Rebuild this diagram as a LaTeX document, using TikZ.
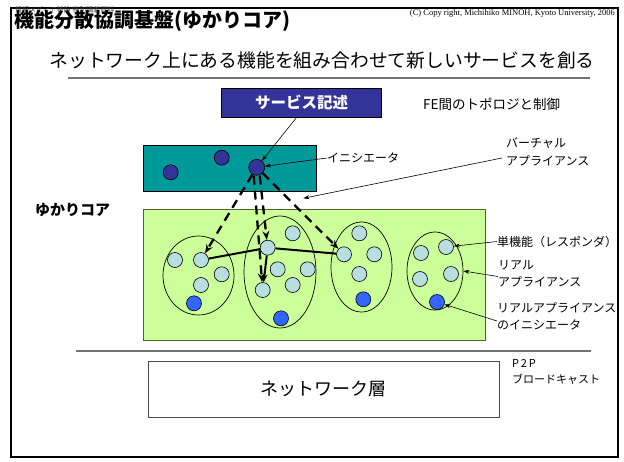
\documentclass[tikz,border=0pt]{standalone}
\usepackage{fontspec}
\setmainfont{Noto Sans CJK JP}
\newfontfamily\tms{Liberation Serif}
\usetikzlibrary{arrows.meta,shapes.geometric}
\definecolor{teal1}{HTML}{009999}
\definecolor{navy1}{HTML}{333399}
\definecolor{lgreen}{HTML}{CCFF99}
\definecolor{lblue}{HTML}{B8DEE0}
\definecolor{bblue}{HTML}{3366FF}
\definecolor{gborder}{HTML}{4F6228}
\tikzset{
  fs/.style={font=\fontsize{#1}{\fpeval{#1*1.45}}\selectfont},
  fe/.style={circle, draw=black, fill=lblue, minimum size=15pt, inner sep=0pt, line width=0.6pt},
  ini/.style={circle, draw=black, fill=bblue, minimum size=15pt, inner sep=0pt, line width=0.6pt},
  vini/.style={circle, draw=black, fill=navy1, minimum size=15pt, inner sep=0pt, line width=0.6pt},
  appl/.style={ellipse, draw=black, line width=0.7pt, inner sep=0pt},
  lbl/.style={anchor=west, align=left, inner sep=0pt, fs=12},
  note/.style={line width=0.6pt, -{Stealth[length=6pt,width=4pt]}},
  dsh/.style={line width=2.3pt, dash pattern=on 9pt off 6pt, -{Stealth[length=9pt,width=7pt]}},
  sol/.style={line width=2pt},
}
\begin{document}
\begin{tikzpicture}[x=1pt,y=-1pt]
\useasboundingbox (0,0) rectangle (624,461);
\fill[white] (0,0) rectangle (624,461);
% frame
\draw[line width=1.6pt] (11,8) rectangle (618,457);
% header
\node[anchor=west, inner sep=0pt, fs=7, text=black!75] (sub0) at (15,9.5) {情報メディア特論 特別講義資料};
\node[anchor=west, inner sep=0pt, fs=20] (title) at (14,21) {\bfseries 機能分散協調基盤(ゆかりコア)};
\node[anchor=east, inner sep=0pt, fs=8.5] (copy) at (615,13) {\tms (C) Copy right, Michihiko MINOH, Kyoto University, 2006};
\node[fs=18.8, inner sep=0pt] (subtitle) at (322,60) {ネットワーク上にある機能を組み合わせて新しいサービスを創る};
\draw[black!55, line width=1.2pt] (68,78) -- (590,78);
% service description
\node[fill=navy1, draw=black, line width=0.6pt, minimum width=160pt, minimum height=29pt, inner sep=0pt, text=white, fs=15.5] (svc) at (301.7,102.5) {\bfseries サービス記述};
\node[lbl, fs=13.5] (fe) at (423,104) {FE間のトポロジと制御};
% virtual appliance box
\draw[fill=teal1, draw=black, line width=0.6pt] (143,145) rectangle (316,191);
\node[vini] (v1) at (170.7,172.3) {};
\node[vini] (v2) at (221.7,157.7) {};
\node[vini, minimum size=16pt] (init) at (256.7,167.3) {};
\node[lbl] (inilbl) at (327,158) {イニシエータ};
\node[lbl, fs=12, align=left] (vlbl) at (506,152) {バーチャル\\アプライアンス};
% core box
\node[anchor=west, inner sep=0pt, fs=15] (core) at (35,210) {\bfseries ゆかりコア};
\draw[fill=lgreen, draw=gborder, line width=1pt] (143,209) rectangle (485,340);
% appliances
\node[appl, minimum width=71pt, minimum height=79pt] (E1) at (198.5,275.5) {};
\node[appl, minimum width=72pt, minimum height=112pt] (E2) at (280,272) {};
\node[appl, minimum width=61pt, minimum height=90pt] (E3) at (361.5,267) {};
\node[appl, minimum width=56pt, minimum height=78pt] (E4) at (435,271) {};
% E1
\node[fe] (a1) at (175,260) {};
\node[fe] (a2) at (201,260) {};
\node[fe] (a3) at (221.7,274.3) {};
\node[fe] (a4) at (201,285) {};
\node[ini] (aI) at (194,303.3) {};
% E2
\node[fe] (b1) at (292.7,233.3) {};
\node[fe] (b2) at (267.7,247.7) {};
\node[fe] (b3) at (277.7,269.3) {};
\node[fe] (b4) at (307.7,269.3) {};
\node[fe] (b5) at (292.7,285) {};
\node[fe] (b6) at (262.7,290) {};
\node[ini] (bI) at (281,318.3) {};
% E3
\node[fe] (c1) at (359.3,233.3) {};
\node[fe] (c2) at (344,254.3) {};
\node[fe] (c3) at (374.3,254.3) {};
\node[fe] (c4) at (359.3,274) {};
\node[ini] (cI) at (363.3,299.3) {};
% E4
\node[fe] (d1) at (421,253) {};
\node[fe] (d2) at (446,247) {};
\node[fe] (d3) at (420,279) {};
\node[fe] (d4) at (451,274) {};
\node[ini] (dI) at (437,302) {};
% topology
\draw[sol] (a2) -- (b2);
\draw[sol] (b2) -- (c2);
\draw[sol, -{Stealth[length=8pt,width=6pt]}] (b2) -- (b6);
% control (dashed)
\draw[dsh] (init) -- (a2);
\draw[dsh] ([xshift=3pt]init.south) -- (b2);
\draw[dsh] ([xshift=-3pt]init.south) -- (b6);
\draw[dsh] (init) -- (c2);
% annotations
\coordinate (vpt) at (303.3,198.3);
\coordinate (svs) at ([xshift=-5pt]svc.south);
\draw[note] (svs) -- (init);
\draw[note] (inilbl.west) -- (init);
\draw[note] ([xshift=-4pt,yshift=-6pt]vlbl.west) -- (vpt);
\node[lbl] (r1) at (497,241.5) {単機能（レスポンダ）};
\node[lbl, align=left] (r2) at (498,273.5) {リアル\\アプライアンス};
\node[lbl, align=left] (r3) at (497,316) {リアルアプライアンス\\のイニシエータ};
\draw[note] (r1.west) -- (d2);
\draw[note] ([yshift=-3pt]r2.west) -- (E4.east);
\draw[note] ([yshift=-5pt]r3.west) -- (dI);
% network layer
\draw[black!55, line width=1.2pt] (76,351) -- (591,351);
\node[draw=black!70, line width=0.8pt, minimum width=351pt, minimum height=56pt, inner sep=0pt, fs=18] (net) at (323.5,389) {ネットワーク層};
\node[lbl, fs=11, align=left] (p2p) at (512,372) {P\,2\,P\\ブロードキャスト};
\end{tikzpicture}
\end{document}
